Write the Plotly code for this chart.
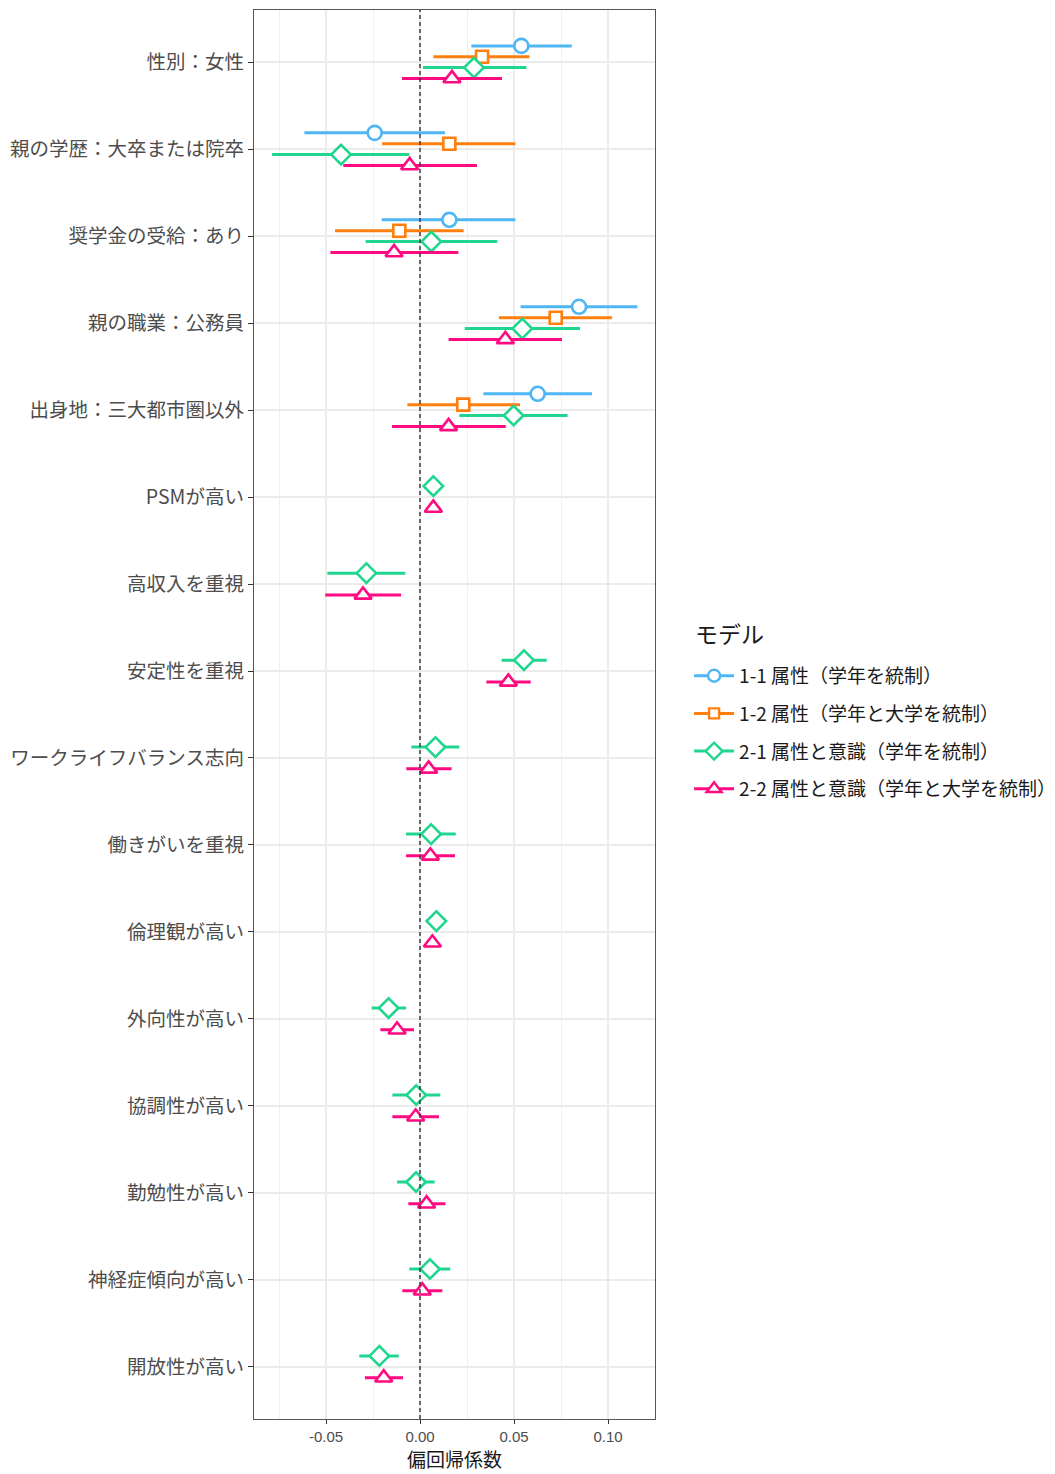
import plotly.graph_objects as go

# ---- data ----
variables = ["性別：女性", "親の学歴：大卒または院卒", "奨学金の受給：あり", "親の職業：公務員",
             "出身地：三大都市圏以外", "PSMが高い", "高収入を重視", "安定性を重視",
             "ワークライフバランス志向", "働きがいを重視", "倫理観が高い", "外向性が高い",
             "協調性が高い", "勤勉性が高い", "神経症傾向が高い", "開放性が高い"]

models = ["1-1 属性（学年を統制）", "1-2 属性（学年と大学を統制）",
          "2-1 属性と意識（学年を統制）", "2-2 属性と意識（学年と大学を統制）"]

# estimates (None = not in model)
est_11 = [0.0539, -0.0241, 0.0156, 0.0846, 0.0626] + [None] * 11
lo_11 = [0.0273, -0.0615, -0.0204, 0.0535, 0.0337] + [None] * 11
hi_11 = [0.0807, 0.0133, 0.0507, 0.1156, 0.0915] + [None] * 11

est_12 = [0.0330, 0.0156, -0.0110, 0.0722, 0.0230] + [None] * 11
lo_12 = [0.0071, -0.0202, -0.0452, 0.0420, -0.0067] + [None] * 11
hi_12 = [0.0582, 0.0507, 0.0232, 0.1021, 0.0532] + [None] * 11

est_21 = [0.0287, -0.0420, 0.0060, 0.0544, 0.0498, 0.0071, -0.0285, 0.0553,
          0.0082, 0.0059, 0.0087, -0.0167, -0.0020, -0.0021, 0.0053, -0.0216]
lo_21 = [0.0016, -0.0787, -0.0289, 0.0238, 0.0209, 0.0045, -0.0493, 0.0434,
         -0.0046, -0.0074, 0.0060, -0.0257, -0.0147, -0.0122, -0.0057, -0.0323]
hi_21 = [0.0566, -0.0057, 0.0411, 0.0851, 0.0785, 0.0097, -0.0078, 0.0674,
         0.0209, 0.0190, 0.0114, -0.0074, 0.0108, 0.0078, 0.0161, -0.0113]

est_22 = [0.0170, -0.0055, -0.0138, 0.0454, 0.0152, 0.0071, -0.0303, 0.0470,
          0.0046, 0.0055, 0.0066, -0.0122, -0.0023, 0.0035, 0.0012, -0.0193]
lo_22 = [-0.0096, -0.0408, -0.0477, 0.0152, -0.0149, 0.0043, -0.0504, 0.0353,
         -0.0073, -0.0074, 0.0036, -0.0211, -0.0147, -0.0062, -0.0094, -0.0293]
hi_22 = [0.0436, 0.0303, 0.0204, 0.0755, 0.0456, 0.0099, -0.0101, 0.0589,
         0.0168, 0.0186, 0.0096, -0.0032, 0.0101, 0.0135, 0.0119, -0.0090]

x_ticks = [-0.05, 0.00, 0.05, 0.10]
x_ticklabels = ["-0.05", "0.00", "0.05", "0.10"]

x_title = "偏回帰係数"
legend_title = "モデル"

# ---- styles ----
colors = ["#4FB6F5", "#FF7F0E", "#20D68F", "#FF0A80"]
symbols = ["circle", "square", "diamond", "triangle-up"]
sizes = [14, 12, 15, 15]

series = [(est_11, lo_11, hi_11), (est_12, lo_12, hi_12),
          (est_21, lo_21, hi_21), (est_22, lo_22, hi_22)]

font_jp = "Noto Sans CJK JP"
dodge = 0.5

fig = go.Figure()

# dodge positions per variable, depending on number of models present
present = [[j for j in range(4) if series[j][0][i] is not None] for i in range(len(variables))]

for j, (est, lo, hi) in enumerate(series):
    xs, ys, ep, em = [], [], [], []
    for i in range(len(variables)):
        if est[i] is None:
            continue
        n = len(present[i])
        k = present[i].index(j)
        off = (k - (n - 1) / 2) * dodge / n
        xs.append(est[i])
        ys.append(i + 1 + off)
        ep.append(hi[i] - est[i])
        em.append(est[i] - lo[i])
    fig.add_trace(go.Scatter(
        x=xs, y=ys, mode="markers", showlegend=False,
        marker=dict(symbol=symbols[j], size=sizes[j], color="white",
                    line=dict(color=colors[j], width=2.6)),
        error_x=dict(type="data", symmetric=False, array=ep, arrayminus=em,
                     color=colors[j], thickness=3, width=0),
        hoverinfo="skip",
    ))
    fig.add_trace(go.Scatter(
        x=[None], y=[None], mode="lines+markers", name=models[j],
        legendgroup=f"g{j}",
        marker=dict(symbol=symbols[j], size=sizes[j] - 2, color="white",
                    line=dict(color=colors[j], width=2.4)),
        line=dict(color=colors[j], width=3),
    ))

fig.add_vline(x=0, line=dict(color="#333333", width=1.4, dash="4px,3px"), layer="above")

fig.update_layout(
    width=1055, height=1474,
    margin=dict(l=254, r=400, t=10, b=55, autoexpand=False),
    plot_bgcolor="white", paper_bgcolor="white",
    font=dict(family=font_jp, size=16, color="#4D4D4D"),
    legend=dict(
        font=dict(size=19, color="#1a1a1a", family=font_jp),
        x=1.085, xanchor="left", y=0.5409, yanchor="top",
        itemwidth=40, tracegroupgap=10, bgcolor="rgba(0,0,0,0)",
    ),
    annotations=[
        dict(text=x_title, xref="paper", yref="paper", x=0.5, y=(1419 - 1473) / 1409,
             xanchor="center", yanchor="bottom", showarrow=False, borderpad=0,
             font=dict(size=19, color="#1a1a1a", family=font_jp)),
        dict(text=legend_title, xref="paper", yref="paper", x=1.095, y=(1419 - 633) / 1409,
             xanchor="left", yanchor="middle", showarrow=False,
             font=dict(size=23, color="#1a1a1a", family=font_jp)),
    ],
)

fig.update_xaxes(
    range=[-0.0883, 0.125], tickvals=x_ticks, ticktext=x_ticklabels,
    showgrid=True, gridcolor="#EBEBEB", gridwidth=1.5,
    minor=dict(dtick=0.025, showgrid=True, gridcolor="#F0F0F0", gridwidth=1, tick0=-0.075),
    ticks="outside", ticklen=4, tickcolor="#333333",
    tickfont=dict(size=15, color="#4D4D4D", family="Liberation Sans"),
    showline=True, linecolor="#555555", linewidth=1.3, mirror=True,
    zeroline=False, automargin=False,
)
fig.update_yaxes(
    range=[len(variables) + 0.6, 0.4],
    tickvals=list(range(1, len(variables) + 1)), ticktext=variables,
    showgrid=True, gridcolor="#EBEBEB", gridwidth=1.5,
    ticks="outside", ticklen=5, tickcolor="#333333",
    tickfont=dict(size=19.5, color="#4D4D4D", family=font_jp),
    showline=True, linecolor="#555555", linewidth=1.3, mirror=True,
    zeroline=False, automargin=False,
)

fig.write_html("out.html")
